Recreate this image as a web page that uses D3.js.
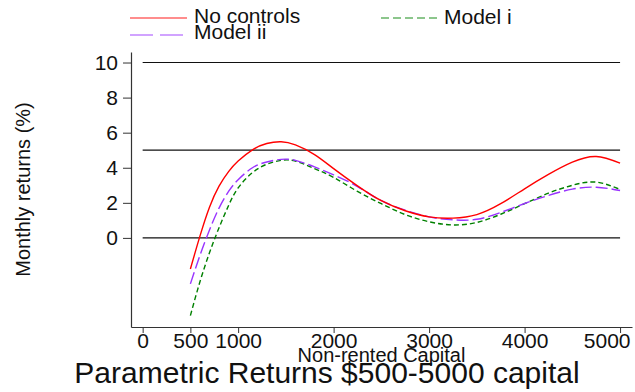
<!DOCTYPE html>
<html>
<head>
<meta charset="utf-8">
<script src="https://cdn.jsdelivr.net/npm/d3@7/dist/d3.min.js"></script>
<style>
  html, body { margin: 0; padding: 0; background: #fff; }
  svg { display: block; font-family: "Liberation Sans", Arial, sans-serif; }
</style>
</head>
<body>
<svg id="chart" width="635" height="392"></svg>
<script>
// Non-rented capital levels at which the fitted returns are evaluated
const capital = [500, 600, 700, 800, 900, 1000, 1150, 1300, 1450, 1600, 1800, 2000,
                 2250, 2500, 2750, 3000, 3250, 3500, 3750, 4000, 4250, 4500, 4750, 5000];

// Fitted monthly returns (%) for each specification
const noControls = [-1.77, 0.10, 1.75, 2.95, 3.78, 4.38, 5.02, 5.38, 5.48, 5.30, 4.75, 3.95,
                    2.97, 2.12, 1.55, 1.20, 1.13, 1.33, 1.95, 2.80, 3.62, 4.32, 4.64, 4.26];
const modelI     = [-4.43, -2.50, -0.85, 0.58, 1.85, 2.85, 3.72, 4.20, 4.42, 4.38, 3.95, 3.45,
                    2.65, 1.95, 1.33, 0.92, 0.74, 0.88, 1.35, 1.95, 2.55, 3.00, 3.18, 2.76];
const modelII    = [-2.62, -1.00, 0.45, 1.70, 2.65, 3.32, 4.00, 4.33, 4.48, 4.42, 4.05, 3.60,
                    2.93, 2.12, 1.58, 1.20, 1.03, 1.06, 1.45, 1.96, 2.42, 2.78, 2.89, 2.70];

const xTicks = [0, 500, 1000, 2000, 3000, 4000, 5000];
const yTicks = [0, 2, 4, 6, 8, 10];
const refLines = [0, 5, 10];

const seriesNames  = ["No controls", "Model i", "Model ii"];
const seriesValues = [noControls, modelI, modelII];

const styles = {
  "No controls": { color: "#ff0000", dash: null,    legendDash: null },
  "Model i":     { color: "#008000", dash: "5,3",   legendDash: "8,4" },
  "Model ii":    { color: "#9933ff", dash: "12,4",  legendDash: "23,7" }
};

const svg = d3.select("#chart");
const plotL = 131, plotR = 632, plotT = 52, plotB = 327;

const x = d3.scaleLinear().domain([-122, 5125]).range([plotL, plotR]);
const y = d3.scaleLinear().domain([-5.08, 10.6]).range([plotB, plotT]);

// Axes
const xAxis = svg.append("g")
  .attr("transform", `translate(0,${plotB})`)
  .call(d3.axisBottom(x).tickValues(xTicks).tickFormat(d3.format("d"))
    .tickSize(6).tickSizeOuter(0).tickPadding(0));
const yAxis = svg.append("g")
  .attr("transform", `translate(${plotL},0)`)
  .call(d3.axisLeft(y).tickValues(yTicks).tickFormat(d3.format("d"))
    .tickSize(8).tickSizeOuter(0).tickPadding(5));

[xAxis, yAxis].forEach(g => {
  g.select(".domain").attr("stroke", "#333").attr("stroke-width", 1.2);
  g.selectAll(".tick line").attr("stroke", "#333").attr("stroke-width", 1);
  g.selectAll(".tick text")
    .attr("fill", "#111")
    .style("font-size", "21px")
    .style("font-family", "'Liberation Sans', Arial, sans-serif");
});

// keep the last x label inside the frame
xAxis.selectAll(".tick text")
  .filter(d => d === 5000)
  .attr("text-anchor", "end")
  .attr("x", 630 - x(5000));

// Reference lines at 0, 5 and 10 percent
svg.append("g").selectAll("line")
  .data(refLines)
  .join("line")
  .attr("x1", x(0)).attr("x2", x(5000))
  .attr("y1", d => y(d)).attr("y2", d => y(d))
  .attr("stroke", "#111").attr("stroke-width", 1.2);

// Fitted curves
const line = d3.line()
  .x(d => x(d[0]))
  .y(d => y(d[1]))
  .curve(d3.curveNatural);

const drawOrder = ["Model i", "Model ii", "No controls"];
drawOrder.forEach(name => {
  const vals = seriesValues[seriesNames.indexOf(name)];
  const pts = capital.map((c, i) => [c, vals[i]]);
  svg.append("path")
    .datum(pts)
    .attr("d", line)
    .attr("fill", "none")
    .attr("stroke", styles[name].color)
    .attr("stroke-width", 1.4)
    .attr("stroke-dasharray", styles[name].dash);
});

// Legend
const legendItems = [
  { name: "No controls", lx: 130, ly: 18, lw: 57, tx: 194, ty: 23 },
  { name: "Model i",     lx: 381, ly: 18, lw: 57, tx: 444, ty: 23.5 },
  { name: "Model ii",    lx: 130, ly: 35, lw: 53, tx: 194, ty: 38.5 }
];
const legend = svg.append("g");
legendItems.forEach(it => {
  legend.append("line")
    .attr("x1", it.lx).attr("x2", it.lx + it.lw)
    .attr("y1", it.ly).attr("y2", it.ly)
    .attr("stroke", styles[it.name].color)
    .attr("stroke-opacity", 0.6)
    .attr("stroke-width", 1.6)
    .attr("stroke-dasharray", styles[it.name].legendDash);
  legend.append("text")
    .attr("x", it.tx).attr("y", it.ty)
    .attr("fill", "#111")
    .style("font-size", "21px")
    .text(it.name);
});

// Axis titles
svg.append("text")
  .attr("x", (plotL + plotR) / 2).attr("y", 362)
  .attr("text-anchor", "middle")
  .attr("fill", "#111")
  .style("font-size", "20px")
  .text("Non-rented Capital");

svg.append("text")
  .attr("transform", `translate(30,${(plotT + plotB) / 2}) rotate(-90)`)
  .attr("text-anchor", "middle")
  .attr("fill", "#111")
  .style("font-size", "20px")
  .text("Monthly returns (%)");

// Chart title
svg.append("text")
  .attr("x", 327).attr("y", 383)
  .attr("text-anchor", "middle")
  .attr("fill", "#111")
  .style("font-size", "30px")
  .text("Parametric Returns $500-5000 capital");
</script>
</body>
</html>
